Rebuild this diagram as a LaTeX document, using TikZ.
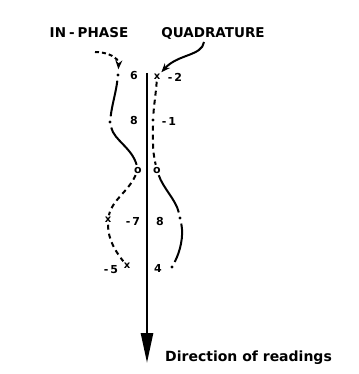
\documentclass[tikz,border=0pt]{standalone}
\usepackage{fontspec}
\setmainfont{DejaVu Sans}
\usetikzlibrary{arrows.meta}
\begin{document}
\begin{tikzpicture}[x=1pt,y=-1pt,
  every node/.style={inner sep=0pt},
  title/.style={font=\bfseries\fontsize{13.5}{13.5}\selectfont},
  num/.style={font=\bfseries\fontsize{11}{11}\selectfont},
  dotmark/.style={circle,fill=black,minimum size=3.4pt,outer sep=4pt},
  xmark/.style={font=\bfseries\fontsize{10}{10}\selectfont,outer sep=2pt},
  omark/.style={font=\bfseries\fontsize{11}{11}\selectfont,outer sep=2pt},
  curveA/.style={line width=2pt},
  curveB/.style={line width=2pt,dash pattern=on 5pt off 4pt},
  axis/.style={line width=2.6pt,-{Triangle[length=30pt,width=12pt]}},
  pointer/.style={line width=2pt,-{Stealth[length=9pt,width=7pt]}}]
\fill[white] (0,0) rectangle (358,374);
\useasboundingbox (0,0) rectangle (358,374);

\node[title] (inphase) at (89,33) {IN\kern3pt-\kern3pt PHASE};
\node[title] (quad) at (213,33) {QUADRATURE};
\node[title,font=\bfseries\fontsize{14}{14}\selectfont,anchor=west] (dir) at (165,358) {Direction of readings};

\coordinate (top) at (147,73);
\coordinate (tip) at (147,363);
\draw[axis] (top) -- (tip);

\node[dotmark] (a1) at (118,75) {};
\node[dotmark] (a2) at (110,122) {};
\node[omark] (oL) at (138,170) {o};
\node[omark] (oR) at (157,170) {o};
\node[dotmark] (a4) at (180,218) {};
\node[dotmark] (a5) at (172,267) {};
\node[xmark] (b1) at (157,77) {x};
\node[dotmark] (b2) at (153,120) {};
\node[xmark] (b4) at (108,220) {x};
\node[xmark] (b5) at (127,266) {x};

\node[num] (l1) at (134,76) {6};
\node[num] (r1) at (175,77) {-\kern2pt2};
\node[num] (l2) at (134,120) {8};
\node[num] (r2) at (169,121) {-\kern2pt1};
\node[num] (l4) at (133,221) {-\kern2pt7};
\node[num] (r4) at (160,221) {8};
\node[num] (l5) at (111,270) {-\kern2pt5};
\node[num] (r5) at (158,268) {4};

\draw[curveA] (a1) .. controls (116,92) and (112,105) .. (a2);
\draw[curveA] (a2) .. controls (114,140) and (132,148) .. (oL);
\draw[curveA] (oR) .. controls (163,188) and (176,200) .. (a4);
\draw[curveA] (a4) .. controls (184,236) and (180,252) .. (a5);
\draw[curveB] (b1) .. controls (156,92) and (154,105) .. (b2);
\draw[curveB] (b2) .. controls (153,135) and (152,150) .. (oR);
\draw[curveB] (oL) .. controls (128,192) and (112,200) .. (b4);
\draw[curveB] (b4) .. controls (108,240) and (116,252) .. (b5);

\coordinate (ipS) at (95,52);
\draw[pointer,dash pattern=on 4pt off 3pt] (ipS) .. controls (108,52) and (119,58) .. (a1);
\coordinate (qS) at (204,42);
\draw[pointer] (qS) .. controls (202,56) and (178,54) .. (b1);
\end{tikzpicture}
\end{document}
